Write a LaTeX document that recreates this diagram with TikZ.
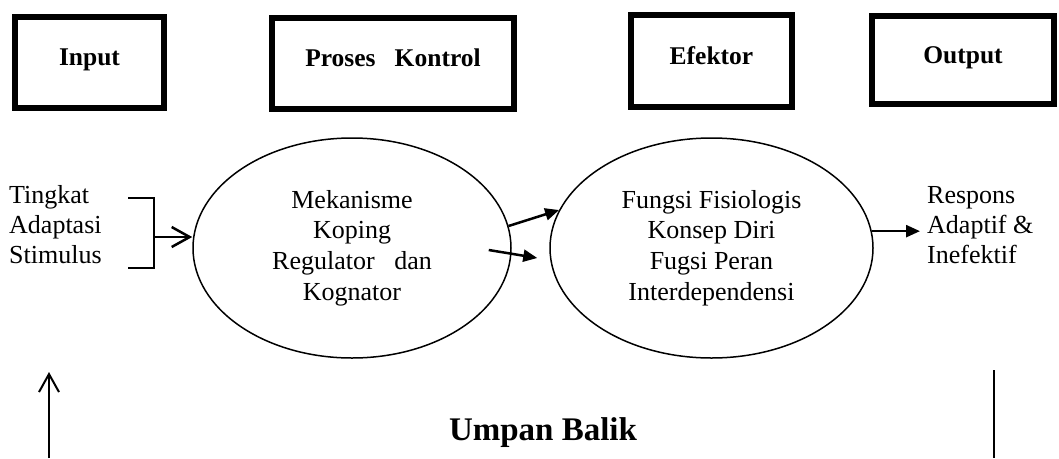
\documentclass[tikz,border=0pt]{standalone}
\usepackage{fontspec}
\setmainfont{Liberation Serif}
\usetikzlibrary{calc}
\usetikzlibrary{positioning}
\usetikzlibrary{shapes.geometric}
\usetikzlibrary{arrows.meta}

\begin{document}
\begin{tikzpicture}[x=1pt,y=-1pt,
    stage/.style={draw,line width=6pt,inner sep=0pt,text height=18pt,text depth=12pt,font=\fontsize{25.5}{30}\selectfont\bfseries},
    part/.style={draw,ellipse,line width=1.5pt,inner sep=0pt,align=center,font=\fontsize{26}{30.7}\selectfont},
    side/.style={inner sep=0pt,align=left,font=\fontsize{26}{30}\selectfont},
    barb/.style={line width=2.5pt,-{Straight Barb[length=18pt,width=20pt]}},
    flow/.style={line width=2.5pt,-{Triangle[length=14pt,width=12pt]}}]
    \useasboundingbox (0,0) rectangle (1059,458);
    \node[stage,minimum width=149pt,minimum height=91pt] (input) at (89.5,62.5) {Input};
    \node[stage,minimum width=242pt,minimum height=91pt] (proses) at (393,63.5) {Proses\ \ \ Kontrol};
    \node[stage,minimum width=161pt,minimum height=92pt] (efektor) at (711.5,61) {Efektor};
    \node[stage,minimum width=182pt,minimum height=88pt] (output) at (963,60) {Output};

    \node[part,minimum width=318pt,minimum height=220pt] (mek) at (352,248) {Mekanisme\\Koping\\Regulator\ \ \ dan\\Kognator};
    \node[part,minimum width=323pt,minimum height=220pt] (efk) at (711.5,248) {Fungsi Fisiologis\\Konsep Diri\\Fugsi Peran\\Interdependensi};
    \node[side,anchor=west] (stim) at (9,225) {Tingkat\\Adaptasi\\Stimulus};
    \node[side,anchor=west,inner xsep=7pt] (res) at (920,225) {Respons\\Adaptif \&\\Inefektif};
    \node[font=\fontsize{33}{38}\selectfont\bfseries,inner sep=0pt,anchor=base] (balik) at (543,440) {Umpan Balik};

    \draw[line width=2.5pt] (128,198) -- ++(26,0) -- ++(0,70) -- ++(-26,0);
    \coordinate (brk) at (154,237);
    \draw[barb] (brk) -- (brk -| mek.west);

    \coordinate (reg) at ($(mek.east)+(-23,2)$);
    \coordinate (fis) at ($(efk.west)+(-12,10)$);
    \draw[flow] (mek.8) -- (efk.166);
    \draw[flow] (reg) -- (fis);
    \draw[flow] (efk.6) -- (efk.6 -| res.west);

    \coordinate (fbin) at (49,458);
    \coordinate (fbtip) at (49,372);
    \coordinate (fbout) at (994,370);
    \coordinate (fbend) at (994,458);
    \draw[barb,line width=2pt] (fbin) -- (fbtip);
    \draw[line width=1.5pt] (fbout) -- (fbend);
\end{tikzpicture}
\end{document}
